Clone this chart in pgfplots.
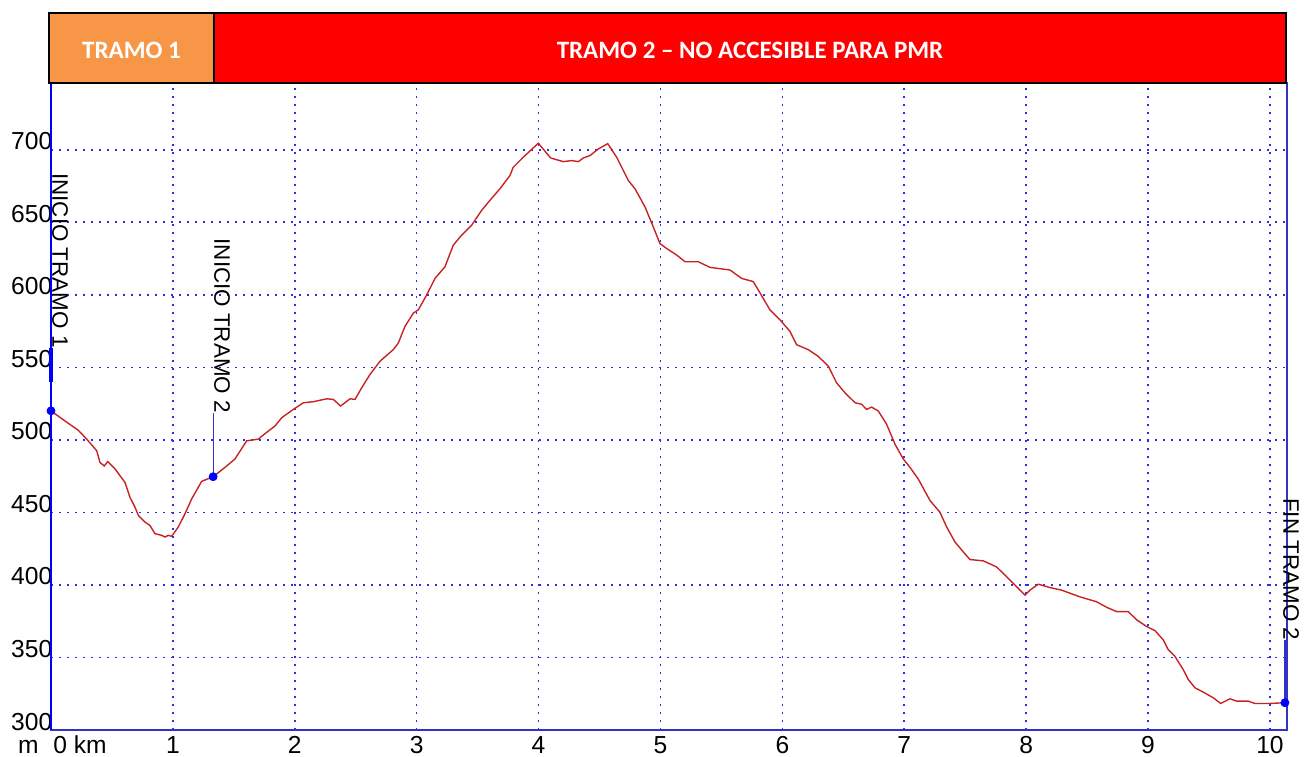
\documentclass[border=0pt]{standalone}
\usepackage{pgfplots}
\pgfplotsset{compat=1.18}
\usepackage{fontspec}
\setmainfont{Liberation Sans}
\newfontfamily\hdrfont{Carlito}
\definecolor{profile}{RGB}{200,35,35}
\definecolor{gridblue}{RGB}{45,45,230}
\definecolor{axblue}{RGB}{50,50,200}
\definecolor{orangebox}{RGB}{247,150,70}
\definecolor{markblue}{RGB}{0,0,255}
\pgfplotstableread{
x y
0 520
0.115 513
0.224 506.6
0.293 500.5
0.375 492.5
0.402 484.4
0.437 482
0.465 485
0.525 480
0.58 473.7
0.607 470.7
0.648 460.4
0.689 453.6
0.717 447.9
0.771 443.3
0.812 441
0.853 435.3
0.908 434.2
0.935 433
0.962 434.2
0.99 433.5
1.044 439.9
1.099 449
1.154 459.3
1.236 471.4
1.33 474.6
1.427 481
1.509 486.8
1.605 499.3
1.701 500.5
1.756 504.3
1.838 509.6
1.893 515.3
1.988 521
2.07 525.6
2.152 526.3
2.262 528.3
2.316 527.9
2.376 523.3
2.453 528.3
2.494 527.9
2.549 535.9
2.617 545.1
2.699 554.2
2.808 562.2
2.849 566.7
2.904 578.2
2.972 587.3
3.013 589.6
3.082 599.9
3.15 611.3
3.232 619.3
3.3 634.2
3.369 641.1
3.451 648
3.533 658.2
3.601 665.1
3.683 673.1
3.765 682.2
3.792 687.9
3.874 694.8
3.998 704.5
4.099 694.3
4.203 691.8
4.271 692.5
4.326 691.8
4.367 694.3
4.422 696
4.49 700.5
4.567 704.2
4.641 694.8
4.736 678.8
4.791 673.1
4.873 660.6
4.941 646.8
4.996 635.3
5.051 631.9
5.133 627.4
5.201 622.8
5.31 622.8
5.406 618.9
5.57 617.1
5.666 611.3
5.761 609.1
5.802 603.4
5.898 589.6
5.98 582.8
6.062 574.8
6.117 565.6
6.212 562.2
6.294 557.6
6.377 550.8
6.445 539.3
6.514 532.4
6.596 525.6
6.65 524.5
6.691 521
6.732 522.6
6.787 519.9
6.855 510.8
6.924 497
6.992 486.8
7.047 481
7.115 473
7.211 458.2
7.293 450.1
7.348 439.9
7.416 429.6
7.485 422.7
7.539 417.5
7.648 416.6
7.758 412.4
7.84 405.6
7.922 398.8
7.99 393
8.031 396.4
8.099 400.5
8.195 398.2
8.291 396.4
8.441 391.8
8.578 388.4
8.66 384.6
8.742 381.6
8.838 381.6
8.907 375.9
8.989 371.3
9.057 368.5
9.125 362.1
9.166 355.3
9.221 350.7
9.289 341.6
9.33 334.8
9.385 329.1
9.453 326.1
9.535 322.2
9.596 318.3
9.672 321.5
9.727 319.9
9.822 319.9
9.877 318.3
10.0 318.3
10.123 318.8
}\profiledata
\begin{document}
\begin{tikzpicture}
\useasboundingbox (-25.5pt,-13pt) rectangle (627pt,365pt);
\begin{axis}[
  at={(0,0)}, anchor=south west,
  scale only axis, width=618pt, height=323.5pt,
  xmin=0, xmax=10.14, ymin=300, ymax=746,
  xtick={0,1,...,10}, xticklabels={,1,2,3,4,5,6,7,8,9,10},
  ytick={300,350,...,700},
  major tick length=0pt,
  grid=major,
  major grid style={draw=gridblue, color=gridblue, line width=0.8pt, dash pattern=on 0.8pt off 3.2pt},
  axis line style={axblue, line width=0.8pt},
  /pgf/number format/assume math mode=true,
  ticklabel style={font=\fontsize{12.3}{14}\selectfont},
  yticklabel style={anchor=base east, inner sep=0pt, xshift=0.8pt},
  xticklabel style={anchor=base, inner sep=0pt, yshift=-11.5pt},
  clip=false,
]
\addplot[profile, line width=0.7pt] table[x=x,y=y] {\profiledata};
% marker sticks
\addplot[axblue, line width=0.6pt] coordinates {(1.33,474.6) (1.33,518.5)};
\addplot[axblue, line width=0.6pt] coordinates {(10.123,318.8) (10.123,362)};
\draw[markblue, line width=1pt] (axis cs:0,300) -- (axis cs:0,746);
\addplot[markblue, line width=1.6pt] coordinates {(0,540) (0,563)};
\addplot[only marks, mark=*, mark size=2pt, mark options={fill=markblue, draw=markblue}] coordinates {(0,520) (1.33,474.6) (10.123,318.8)};
% vertical labels
\node[rotate=-90, anchor=base west, inner sep=0pt, font=\fontsize{11.2}{13}\selectfont] at (axis cs:0.012,684) {INICIO TRAMO 1};
\node[rotate=-90, anchor=base west, inner sep=0pt, font=\fontsize{11.2}{13}\selectfont] at (axis cs:1.34,639) {INICIO TRAMO 2};
\node[rotate=-90, anchor=base west, inner sep=0pt, font=\fontsize{11.2}{13}\selectfont] at (axis cs:10.11,460) {FIN TRAMO 2};
\end{axis}
% x origin labels
\node[anchor=base east, inner sep=0pt, font=\fontsize{12.3}{14}\selectfont] at (-6pt,-11.5pt) {m};
\node[anchor=base west, inner sep=0pt, font=\fontsize{12.3}{14}\selectfont] at (1pt,-11.5pt) {0 km};
% header
\draw[fill=orangebox, line width=1pt] (-1pt,323.5pt) rectangle (81.5pt,358.5pt);
\draw[fill=red, line width=1pt] (81.5pt,323.5pt) rectangle (617.5pt,358.5pt);
\node[text=white, font=\hdrfont\bfseries\fontsize{12.5}{14}\selectfont, inner sep=0pt] at (40.25pt,340pt) {TRAMO 1};
\node[text=white, font=\hdrfont\bfseries\fontsize{12.5}{14}\selectfont, inner sep=0pt] at (349.5pt,340pt) {TRAMO 2 – NO ACCESIBLE PARA PMR};
\end{tikzpicture}
\end{document}
